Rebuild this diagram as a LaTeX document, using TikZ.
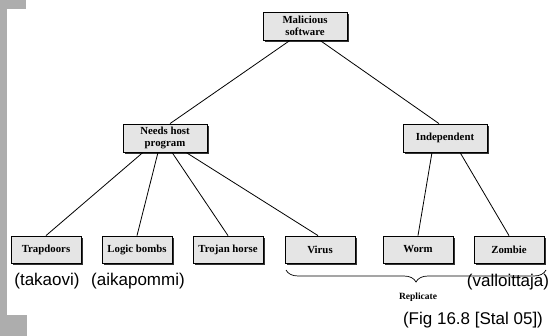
\documentclass[tikz,border=0pt]{standalone}
\usepackage{fontspec}
\setmainfont{Liberation Serif}
\newfontfamily\arialf{Liberation Sans}
\usetikzlibrary{shadows,decorations.pathreplacing}
\begin{document}
\begin{tikzpicture}[x=1pt,y=-1pt,
  boxbase/.style={draw=black, line width=0.8pt, fill=black!10, inner sep=0pt,
    font=\bfseries\fontsize{10.8}{12.5}\selectfont, align=center,
    drop shadow={shadow xshift=2.2pt, shadow yshift=-2.2pt, fill=black!80, opacity=1}},
  bigbox/.style={boxbase, minimum width=84pt, minimum height=28pt},
  leafbox/.style={boxbase, minimum width=70pt, minimum height=27pt},
  link/.style={line width=0.8pt},
  note/.style={font=\arialf\fontsize{17}{19}\selectfont, inner sep=0pt},
  bgpart/.style={fill=black!32, draw=none}]
\useasboundingbox (0,0) rectangle (551,336);
\fill[white] (0,0) rectangle (551,336);
% grey slide background at the left edge
\fill[bgpart] (0,0) rectangle (26,9);
\fill[bgpart] (0,0) rectangle (7,336);
\fill[bgpart] (0,315) rectangle (27,336);

\node[bigbox] (mal) at (305,26) {Malicious\\software};
\node[bigbox] (need) at (165,138) {Needs host\\program};
\node[bigbox] (ind) at (445,138) {Independent};

\node[leafbox] (trap) at (46,249.5) {Trapdoors};
\node[leafbox] (logic) at (137,249.5) {Logic bombs};
\node[leafbox] (troj) at (228,249.5) {Trojan horse};
\node[leafbox] (virus) at (320,249.5) {Virus};
\node[leafbox] (worm) at (418,249.5) {Worm};
\node[leafbox] (zomb) at (509,249.5) {Zombie};

\draw[link] ([xshift=-15pt]mal.south) -- ([xshift=5pt]need.north);
\draw[link] ([xshift=15pt]mal.south) -- ([xshift=-6pt]ind.north);

\draw[link] ([xshift=-22pt]need.south) -- (trap.north);
\draw[link] ([xshift=-7pt]need.south) -- (logic.north);
\draw[link] ([xshift=7pt]need.south) -- (troj.north);
\draw[link] ([xshift=21pt]need.south) -- ([xshift=-2pt]virus.north);

\draw[link] ([xshift=-13pt]ind.south) -- (worm.north);
\draw[link] ([xshift=15pt]ind.south) -- (zomb.north);

\coordinate (bl) at (286,270);
\coordinate (br) at (546,270);
\draw[line width=0.7pt, decorate, decoration={brace, mirror, amplitude=12pt}] (bl) -- (br);

\node[font=\bfseries\fontsize{9.5}{11}\selectfont, inner sep=0pt] (rep) at (418,297) {Replicate};

\node[note] (tak) at (47,281) {(takaovi)};
\node[note] (aik) at (138,281) {(aikapommi)};
\node[note] (val) at (508,282) {(valloittaja)};
\node[note] (fig) at (473,320) {(Fig 16.8 [Stal 05])};
\end{tikzpicture}
\end{document}
